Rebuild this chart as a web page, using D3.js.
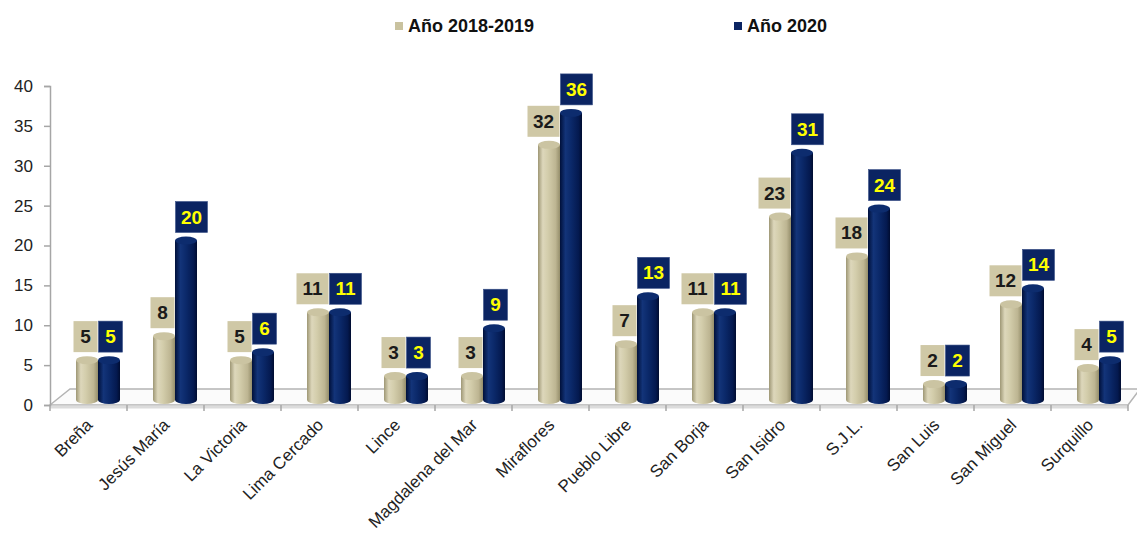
<!DOCTYPE html>
<html>
<head>
<meta charset="utf-8">
<script src="https://cdn.jsdelivr.net/npm/d3@7"></script>
<style>
  body { margin: 0; background: #fff; }
  svg { font-family: "Liberation Sans", Arial, sans-serif; }
</style>
</head>
<body>
<div id="chart"></div>
<script>
var districts = ["Breña", "Jesús María", "La Victoria", "Lima Cercado", "Lince", "Magdalena del Mar",
  "Miraflores", "Pueblo Libre", "San Borja", "San Isidro", "S.J.L.", "San Luis", "San Miguel", "Surquillo"];
var serie2018 = [5, 8, 5, 11, 3, 3, 32, 7, 11, 23, 18, 2, 12, 4];
var serie2020 = [5, 20, 6, 11, 3, 9, 36, 13, 11, 31, 24, 2, 14, 5];
var seriesNames = ["Año 2018-2019", "Año 2020"];
var yTicks = [0, 5, 10, 15, 20, 25, 30, 35, 40];

var width = 1137, height = 534;
var svg = d3.select("#chart").append("svg")
  .attr("width", width)
  .attr("height", height);

var x = d3.scaleBand().domain(districts).range([50, 1128]).padding(0);
var y = d3.scaleLinear().domain([0, 40]).range([405, 86]);

// 3d offsets for the bars (they stand in the middle of the floor)
var dx = 10, dy = 5, bw = 22;

// gradients for the cylinders
var defs = svg.append("defs");
function grad(id, stops) {
  var g = defs.append("linearGradient").attr("id", id)
    .attr("x1", "0%").attr("x2", "100%").attr("y1", "0%").attr("y2", "0%");
  stops.forEach(s => g.append("stop").attr("offset", s[0]).attr("stop-color", s[1]));
}
grad("beige", [["0%", "#9e9775"], ["22%", "#ddd7bb"], ["45%", "#d3cdab"], ["80%", "#bdb592"], ["100%", "#958e6b"]]);
grad("navy", [["0%", "#00103a"], ["25%", "#133479"], ["50%", "#0b296a"], ["85%", "#04194f"], ["100%", "#000c30"]]);

// floor
var floor = svg.append("g");
floor.append("path")
  .attr("d", "M50,405 L70,389 L1140,389 L1128,405 Z")
  .attr("fill", "#fbfbfb")
  .attr("stroke", "#b4b4b4")
  .attr("stroke-width", 1.5);
floor.append("line")
  .attr("x1", 50).attr("x2", 1128).attr("y1", 407).attr("y2", 407)
  .attr("stroke", "#dcdcdc").attr("stroke-width", 3);

// y axis
var yAxis = svg.append("g")
  .attr("transform", "translate(50,0)")
  .call(d3.axisLeft(y).tickValues(yTicks).tickSize(6).tickPadding(11));
yAxis.select(".domain").attr("stroke", "#a6a6a6").attr("stroke-width", 1.5);
yAxis.selectAll(".tick line").attr("stroke", "#a6a6a6").attr("stroke-width", 1.5);
yAxis.selectAll("text").attr("font-size", 17).attr("fill", "#222")
  .style("font-family", "'Liberation Sans', Arial, sans-serif");

// x ticks at band boundaries
var bounds = districts.map(d => x(d)).concat([x.range()[1]]);
svg.append("g").selectAll("line")
  .data(bounds)
  .enter()
  .append("line")
  .attr("x1", d => d).attr("x2", d => d)
  .attr("y1", 405).attr("y2", 411)
  .attr("stroke", "#a6a6a6").attr("stroke-width", 1.5);

// x labels
svg.append("g").selectAll("text")
  .data(districts)
  .enter()
  .append("text")
  .attr("text-anchor", "end")
  .attr("font-size", 17)
  .attr("fill", "#222")
  .attr("transform", d => "translate(" + (x(d) + x.bandwidth() / 2 + 5) + ",426) rotate(-45)")
  .text(d => d);

// cylinders
function cylinder(g, cx, v, fill, topFill) {
  var top = y(v) - dy, base = y(0) - dy;
  g.append("ellipse").attr("cx", cx).attr("cy", base).attr("rx", bw / 2).attr("ry", 4)
    .attr("fill", fill);
  g.append("rect").attr("x", cx - bw / 2).attr("y", top).attr("width", bw).attr("height", base - top)
    .attr("fill", fill);
  g.append("ellipse").attr("cx", cx).attr("cy", top).attr("rx", bw / 2).attr("ry", 4)
    .attr("fill", topFill);
}

var bars = svg.append("g");
districts.forEach(function(d, i) {
  var pc = x(d) + x.bandwidth() / 2 + dx;
  cylinder(bars, pc - bw / 2 - 0.5, serie2018[i], "url(#beige)", "#cbc4a2");
  cylinder(bars, pc + bw / 2 - 0.5, serie2020[i], "url(#navy)", "#0d2c6e");
});

// value labels
var labels = svg.append("g");
function label(px, v, left, boxFill, txtFill) {
  var txt = String(v);
  var w = txt.length > 1 ? 32 : 24, h = 31;
  var bottom = y(v) - dy - 8;
  var bx = left ? px - w : px;
  labels.append("rect").attr("x", bx).attr("y", bottom - h).attr("width", w).attr("height", h)
    .attr("fill", boxFill).attr("stroke", left ? "none" : "#3a5088").attr("stroke-width", 0.6);
  labels.append("text").attr("x", bx + w / 2).attr("y", bottom - 9)
    .attr("text-anchor", "middle").attr("font-size", 19).attr("font-weight", "bold")
    .style("font-family", "'Liberation Sans Narrow', 'Liberation Sans', Arial, sans-serif")
    .attr("fill", txtFill).text(txt);
}
districts.forEach(function(d, i) {
  var pc = x(d) + x.bandwidth() / 2 + dx;
  label(pc - 1, serie2018[i], true, "#cfc8a6", "#1a1a1a");
  label(pc, serie2020[i], false, "#0b2462", "#ffff00");
});

// legend
var legendX = [395, 734];
var legendColors = ["#c9c29f", "#0b2462"];
var legend = svg.append("g");
seriesNames.forEach(function(n, i) {
  legend.append("rect").attr("x", legendX[i]).attr("y", 22).attr("width", 8).attr("height", 8)
    .attr("fill", legendColors[i]);
  legend.append("text").attr("x", legendX[i] + 13).attr("y", 32)
    .attr("font-size", 18).attr("font-weight", "bold").attr("fill", "#111").text(n);
});
</script>
</body>
</html>
